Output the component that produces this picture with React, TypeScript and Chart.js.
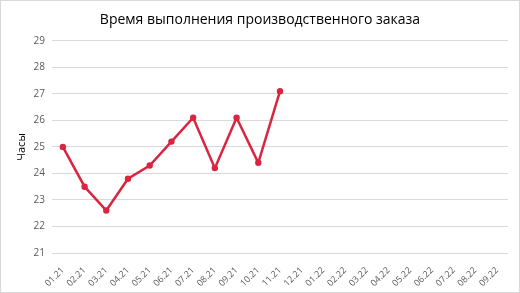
import React, { useEffect, useRef } from "react";
import { Chart, registerables } from "chart.js";

Chart.register(...registerables);

const categories = [
  "01.21", "02.21", "03.21", "04.21", "05.21", "06.21", "07.21", "08.21", "09.21", "10.21",
  "11.21", "12.21", "01.22", "02.22", "03.22", "04.22", "05.22", "06.22", "07.22", "08.22", "09.22",
];
const hours = [25.0, 23.5, 22.6, 23.8, 24.3, 25.2, 26.1, 24.2, 26.1, 24.4, 27.1];
const yMin = 21;
const yMax = 29;
const titleText = "Время выполнения производственного заказа";
const yAxisTitle = "Часы";

const FONT = "'Open Sans', 'Liberation Sans', sans-serif";

const borderPlugin = {
  id: "outerBorder",
  beforeDraw(chart: any) {
    const { ctx, width, height } = chart;
    ctx.save();
    ctx.fillStyle = "#ffffff";
    ctx.fillRect(0, 0, width, height);
    ctx.strokeStyle = "#d9d9d9";
    ctx.lineWidth = 1;
    ctx.strokeRect(0.5, 0.5, width - 1, height - 1);
    ctx.restore();
  },
};

export default function App() {
  const ref = useRef<HTMLCanvasElement | null>(null);

  useEffect(() => {
    document.body.style.margin = "0";
    const canvas = ref.current;
    if (!canvas) return;
    const chart = new Chart(canvas, {
      type: "line",
      data: {
        labels: categories,
        datasets: [
          {
            data: hours,
            borderColor: "#d9253f",
            backgroundColor: "#d9253f",
            borderWidth: 2.5,
            pointRadius: 3.2,
            pointBackgroundColor: "#d9253f",
            pointBorderWidth: 0,
            tension: 0,
          },
        ],
      },
      options: {
        animation: false,
        responsive: false,
        layout: { padding: { left: 0, right: 0, top: 0, bottom: 0 } },
        plugins: {
          legend: { display: false },
          tooltip: { enabled: false },
          title: {
            display: true,
            text: titleText,
            color: "#000000",
            font: { family: FONT, size: 14, weight: "normal" },
            padding: { top: 12, bottom: 12 },
          },
        },
        scales: {
          x: {
            offset: true,
            grid: { display: false },
            border: { display: false },
            ticks: {
              color: "#595959",
              font: { family: FONT, size: 9 },
              minRotation: 45,
              maxRotation: 45,
              autoSkip: false,
              padding: 4,
            },
            afterFit(scale: any) {
              scale.height = 40;
            },
          },
          y: {
            min: yMin,
            max: yMax,
            grid: { color: "#d9d9d9", lineWidth: 1, drawTicks: false },
            border: { display: false },
            ticks: {
              stepSize: 1,
              color: "#595959",
              font: { family: FONT, size: 10 },
              padding: 7,
            },
            title: {
              display: true,
              text: yAxisTitle,
              color: "#000000",
              font: { family: FONT, size: 11 },
              padding: { top: 15, bottom: 0 },
            },
            afterFit(scale: any) {
              scale.width = 52;
            },
          },
          yRightSpace: {
            position: "right",
            display: true,
            grid: { display: false },
            border: { display: false },
            ticks: { display: false },
            afterFit(scale: any) {
              scale.width = 12;
            },
          },
        },
      },
      plugins: [borderPlugin],
    });
    return () => chart.destroy();
  }, []);

  return (
    <div style={{ position: "absolute", left: 0, top: 0, width: 520, height: 293 }}>
      <canvas ref={ref} width={520} height={293} style={{ display: "block" }} />
    </div>
  );
}
